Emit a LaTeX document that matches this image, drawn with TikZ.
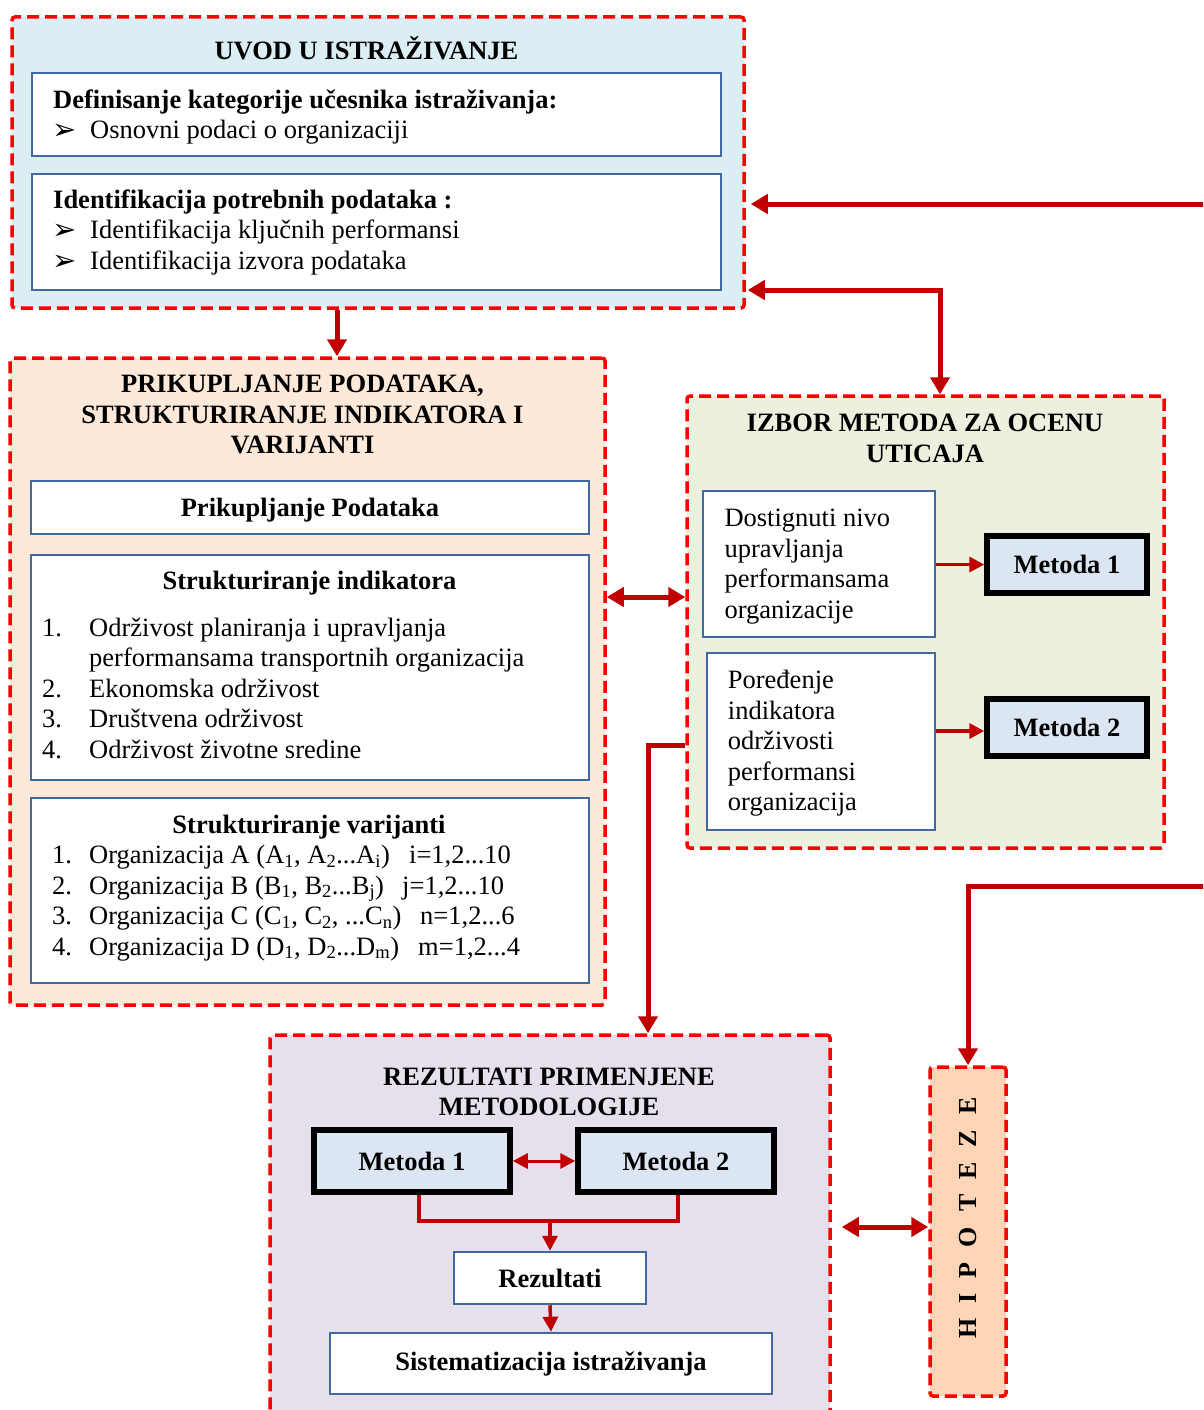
\documentclass[tikz,border=0pt]{standalone}
\usepackage{fontspec}
\setmainfont{Liberation Serif}
\newfontfamily\dingfont{DejaVu Sans}
\usetikzlibrary{arrows.meta, calc}

\definecolor{uvodfill}{HTML}{DAEEF3}
\definecolor{prikfill}{HTML}{FDE9D9}
\definecolor{izborfill}{HTML}{EBF1DE}
\definecolor{rezfill}{HTML}{E5E0EC}
\definecolor{hipfill}{HTML}{FBD5B5}
\definecolor{metfill}{HTML}{DCE6F2}
\definecolor{dashred}{HTML}{FF0000}
\definecolor{inblue}{HTML}{41699F}
\definecolor{arrred}{HTML}{C00000}

% list helpers
\newcommand{\lead}{\rule{0pt}{24pt}}
\newcommand{\bul}{\makebox[37pt][l]{\hspace{-1pt}\raisebox{-1pt}{\dingfont\fontsize{29}{29}\selectfont ➢}}}
\newcommand{\itm}[2][47pt]{\makebox[#1][l]{#2}}
\newcommand{\ix}[1]{\textsubscript{#1}}
\newcommand{\gap}{\hspace{15pt}}

\begin{document}
\begin{tikzpicture}[x=1pt, y=-1pt,
    font=\fontsize{26.5}{30.5}\selectfont,
    group/.style={draw=dashred, line width=3.5pt, dash pattern=on 12pt off 6pt, rounded corners=3pt, inner sep=0pt},
    inbox/.style={draw=inblue, line width=2.5pt, fill=white, inner sep=0pt},
    metbox/.style={draw=black, line width=5.5pt, fill=metfill, inner sep=0pt, font=\fontsize{26.5}{30.5}\selectfont\bfseries},
    title/.style={anchor=north, align=center, inner sep=0pt, font=\fontsize{26.5}{30.5}\selectfont\bfseries},
    txt/.style={anchor=north west, align=left, inner sep=0pt},
    arr/.style={-{Triangle[length=17pt, width=19pt]}, line width=5pt, draw=arrred},
    dblarr/.style={{Triangle[length=17pt, width=19pt]}-{Triangle[length=17pt, width=19pt]}, line width=5pt, draw=arrred},
    sarr/.style={-{Triangle[length=15pt, width=15pt]}, line width=3.5pt, draw=arrred},
    sdblarr/.style={{Triangle[length=15pt, width=15pt]}-{Triangle[length=15pt, width=15pt]}, line width=3pt, draw=arrred},
]
\useasboundingbox (0,0) rectangle (1203,1410);
\clip (0,0) rectangle (1203,1410);

% Uvod
\node[group, fill=uvodfill, minimum width=732pt, minimum height=291pt] (uvod) at (378,162.5) {};
\node[title] (uvodt) at (366.5,35) {\lead UVOD U ISTRAŽIVANJE};
\node[inbox, minimum width=689pt, minimum height=83pt] (def) at (376.5,114.5) {};
\node[txt] (deft) at (53,84) {\lead\textbf{Definisanje kategorije učesnika istraživanja:}\\
    \bul Osnovni podaci o organizaciji};
\node[inbox, minimum width=689pt, minimum height=116pt] (idf) at (376.5,232) {};
\node[txt] (idft) at (53,184) {\lead\textbf{Identifikacija potrebnih podataka :}\\
    \bul Identifikacija ključnih performansi\\
    \bul Identifikacija izvora podataka};

% Prikupljanje
\node[group, fill=prikfill, minimum width=595pt, minimum height=647pt] (prik) at (307.5,681.5) {};
\node[title] (prikt) at (302.5,368.7) {\lead PRIKUPLJANJE PODATAKA,\\STRUKTURIRANJE INDIKATORA I\\VARIJANTI};
\node[inbox, minimum width=558pt, minimum height=53pt, text depth=0pt, font=\fontsize{26.5}{30.5}\selectfont\bfseries] (pod) at (310,507.5) {Prikupljanje Podataka};
\node[inbox, minimum width=558pt, minimum height=225pt] (ind) at (310,667.5) {};
\node[title] (indt) at (309.5,565.3) {\lead Strukturiranje indikatora};
\node[txt] (indl) at (42,612) {\lead\itm{1.}Održivost planiranja i upravljanja\\
    \itm{}performansama transportnih organizacija\\
    \itm{2.}Ekonomska održivost\\
    \itm{3.}Društvena održivost\\
    \itm{4.}Održivost životne sredine};
\node[inbox, minimum width=558pt, minimum height=185pt] (var) at (310,890.5) {};
\node[title] (vart) at (309,809.3) {\lead Strukturiranje varijanti};
\node[txt] (varl) at (52,839.3) {\lead\itm[37pt]{1.}\makebox[320pt][l]{Organizacija A (A\ix{1}, A\ix{2}...A\ix{i})}i=1,2...10\\
    \itm[37pt]{2.}\makebox[313pt][l]{Organizacija B (B\ix{1}, B\ix{2}...B\ix{j})}j=1,2...10\\
    \itm[37pt]{3.}\makebox[331pt][l]{Organizacija C (C\ix{1}, C\ix{2}, ...C\ix{n})}n=1,2...6\\
    \itm[37pt]{4.}\makebox[329pt][l]{Organizacija D (D\ix{1}, D\ix{2}...D\ix{m})}m=1,2...4};

% Izbor metoda
\node[group, fill=izborfill, minimum width=477pt, minimum height=452pt] (izbor) at (925.5,622) {};
\node[title] (izbort) at (925,407.7) {\lead IZBOR METODA ZA OCENU\\UTICAJA};
\node[inbox, minimum width=232pt, minimum height=146pt] (dost) at (819,564) {};
\node[txt] (dostt) at (724.3,502.7) {\lead Dostignuti nivo\\upravljanja\\performansama\\organizacije};
\node[inbox, minimum width=228pt, minimum height=177pt] (por) at (821,741.5) {};
\node[txt] (port) at (727.7,664.3) {\lead Poređenje\\indikatora\\održivosti\\performansi\\organizacija};
\node[metbox, minimum width=160pt, minimum height=57pt] (im1) at (1067,564.5) {Metoda 1};
\node[metbox, minimum width=160pt, minimum height=57pt] (im2) at (1067,727.5) {Metoda 2};
\draw[sarr] (dost.east |- im1.west) -- (im1.west);
\draw[sarr] (por.east |- 0,731) -- (im2.west |- 0,731);

% Rezultati
\node[group, fill=rezfill, minimum width=560pt, minimum height=410pt] (rez) at (550,1240) {};
\node[title] (rezt) at (549,1061) {\lead REZULTATI PRIMENJENE\\METODOLOGIJE};
\node[metbox, minimum width=196pt, minimum height=62pt] (rm1) at (412,1161) {Metoda 1};
\node[metbox, minimum width=196pt, minimum height=62pt] (rm2) at (676,1161) {Metoda 2};
\node[inbox, minimum width=192pt, minimum height=52pt, font=\fontsize{26.5}{30.5}\selectfont\bfseries] (res) at (550,1278) {Rezultati};
\node[inbox, minimum width=442pt, minimum height=61pt, font=\fontsize{26.5}{30.5}\selectfont\bfseries] (sist) at (551,1363.5) {Sistematizacija istraživanja};
\coordinate (join) at (550,1221);
\draw[sdblarr] (rm1.east) -- (rm2.west);
\draw[arrred, line width=3.5pt] (rm1.south -| 419,0) |- (join) -| (rm2.south -| 678,0);
\draw[sarr] (join) -- (res.north);
\draw[sarr] (res.south) -- (sist.north);

% Hipoteze
\node[group, fill=hipfill, minimum width=76pt, minimum height=329pt] (hip) at (968,1231.5) {};
\node[rotate=90, font=\fontsize{26}{30}\selectfont\bfseries] (hipt) at (968,1218) {H\gap I\gap P\gap O\gap T\gap E\gap Z\gap E};

% Connectors between blocks
\coordinate (inA) at (1215,204);
\coordinate (inB) at (1215,886);
\coordinate (bend) at (940,290);
\draw[arr] (inA) -- ([xshift=5pt]uvod.east |- inA);
\draw[dblarr] ([xshift=2pt]uvod.east |- bend) -- (bend) -- (izbor.north -| bend);
\draw[arr] (uvod.south -| 337,0) -- (prik.north -| 337,0);
\draw[dblarr] (prik.east |- 0,597) -- (izbor.west |- 0,597);
\draw[arr] (izbor.west |- 0,745) -| (rez.north -| 648,0);
\draw[arr] (inB) -| (hip.north);
\draw[dblarr] ([xshift=10pt]rez.east |- 0,1227) -- (hip.west |- 0,1227);

\end{tikzpicture}
\end{document}
